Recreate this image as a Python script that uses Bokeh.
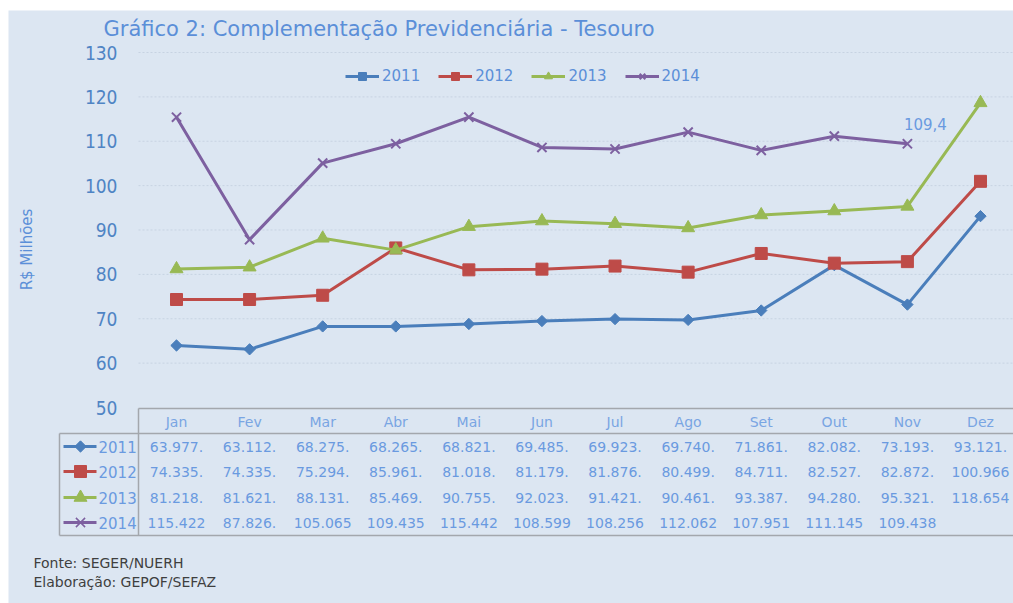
from bokeh.plotting import figure
from bokeh.models import Range1d, LinearAxis, FixedTicker, Legend, LegendItem
from bokeh.core.properties import value
from bokeh.embed import file_html
from bokeh.resources import INLINE
import math

# ---------------- data ----------------
months = ["Jan", "Fev", "Mar", "Abr", "Mai", "Jun", "Jul", "Ago", "Set", "Out", "Nov", "Dez"]
years = ["2011", "2012", "2013", "2014"]
v2011 = [63.977, 63.112, 68.275, 68.265, 68.821, 69.485, 69.923, 69.740, 71.861, 82.082, 73.193, 93.121]
v2012 = [74.335, 74.335, 75.294, 85.961, 81.018, 81.179, 81.876, 80.499, 84.711, 82.527, 82.872, 100.966]
v2013 = [81.218, 81.621, 88.131, 85.469, 90.755, 92.023, 91.421, 90.461, 93.387, 94.280, 95.321, 118.654]
v2014 = [115.422, 87.826, 105.065, 109.435, 115.442, 108.599, 108.256, 112.062, 107.951, 111.145, 109.438]
y_ticks = [50, 60, 70, 80, 90, 100, 110, 120, 130]
title_text = "Gráfico 2: Complementação Previdenciária - Tesouro"
y_label = "R$ Milhões"
source_lines = ["Fonte: SEGER/NUERH", "Elaboração: GEPOF/SEFAZ"]

series = [v2011, v2012, v2013, v2014]
colors = ["#4a7ebb", "#be4b48", "#98b954", "#7d60a0"]
markers = ["square", "square", "triangle", "x"]
msizes = [8, 12, 13, 13]
mangles = [math.pi / 4, 0, 0, 0]

# ---------------- layout helpers (page pixels -> data units) ----------------
W, H = 1005, 593          # figure size (page offset 8, 10)
PX_PER_UNIT = 355 / 80.0  # vertical scale
X0_PAGE, DX = 176.0, 73.09


def yd(page_y):
    return 130 - (page_y - 52) / PX_PER_UNIT


def xd(page_x):
    return (page_x - X0_PAGE) / DX


x_start, x_end = xd(8), xd(1013)
y_end = yd(10)
y_start = yd(603)

BG = "#dce6f2"
FONT = value("DejaVu Sans")
VAL_COLOR = "#6a9ae0"
HEAD_COLOR = "#79a5e3"
TITLE_COLOR = "#5b8fd8"
LINE_GRAY = "#a3a7ad"

p = figure(width=W, height=H, output_backend="svg", toolbar_location=None,
           x_range=Range1d(x_start, x_end), y_range=Range1d(y_start, y_end),
           x_axis_type=None, y_axis_type=None,
           min_border_left=0, min_border_right=0, min_border_bottom=0, min_border_top=0,
           background_fill_color=BG, border_fill_color=BG, outline_line_color=None)
p.margin = (10, 0, 0, 8)
p.xgrid.visible = False
p.ygrid.visible = False

# title (as text so nothing gets clipped)
p.text(x=[xd(103)], y=[yd(28)], text=[title_text], text_align="left", text_baseline="middle",
       text_font=FONT, text_font_size=value("21px"), text_color=TITLE_COLOR)

# y axis at a fixed location
yaxis = LinearAxis(fixed_location=xd(121), ticker=FixedTicker(ticks=y_ticks),
                   axis_line_color=None, major_tick_line_color=None, minor_tick_line_color=None,
                   major_tick_out=0, major_label_standoff=4,
                   major_label_text_font="'Liberation Sans Narrow', 'DejaVu Sans Condensed', sans-serif",
                   major_label_text_font_size="19px", major_label_text_color="#4f84c4")
p.add_layout(yaxis, "left")

# gridlines (faint)
gx0 = xd(138)
gt = y_ticks[1:]
p.segment(x0=[gx0] * len(gt), y0=gt, x1=[x_end] * len(gt), y1=gt,
          line_color="#c7d3e2", line_width=1, line_dash="2 2")

# y label
p.text(x=[xd(26)], y=[yd(249)], text=[y_label], angle=math.pi / 2,
       text_align="center", text_baseline="middle", text_font=FONT,
       text_font_size=value("15px"), text_color="#5b8fd8")

# series
items = []
for vals, col, mk, ms, ang, yr in zip(series, colors, markers, msizes, mangles, years):
    xs = list(range(len(vals)))
    lr = p.line(xs, vals, line_color=col, line_width=3)
    if mk == "x":
        sr = p.scatter(xs, vals, marker="x", size=ms, line_color=col, line_width=2)
    else:
        sr = p.scatter(xs, vals, marker=mk, size=ms, angle=ang, fill_color=col, line_color=col)
    items.append(LegendItem(label=yr, renderers=[lr, sr]))

# label on last 2014 point
last = len(v2014) - 1
p.text(x=[last], y=[v2014[last]], text=[f"{v2014[last]:.1f}".replace(".", ",")],
       x_offset=18, y_offset=-20, text_align="center", text_baseline="middle",
       text_font=FONT, text_font_size=value("15px"), text_color="#6a9ae0")

# legend: bottom edge given from frame bottom (legend centred on page y=76)
legend = Legend(items=items, orientation="horizontal", location=(337, 603 - 86),
                background_fill_alpha=0, border_line_color=None, padding=0, margin=0,
                glyph_width=34, glyph_height=20, label_height=20, label_standoff=3, spacing=18,
                label_text_font="DejaVu Sans", label_text_font_size="15px",
                label_text_color="#5b8fd8")
p.add_layout(legend)

# ---------------- data table ----------------
xcol = list(range(len(months)))
p.text(x=xcol, y=[yd(421)] * len(months), text=months, text_align="center",
       text_baseline="middle", text_font=FONT, text_font_size=value("14px"),
       text_color=HEAD_COLOR)

row_y = [yd(446), yd(471), yd(497), yd(522)]
for vals, col, mk, ms, ang, yr, ry in zip(series, colors, markers, msizes, mangles, years, row_y):
    labels = [f"{v:.3f}" + ("." if v < 100 else "") for v in vals]
    p.text(x=list(range(len(vals))), y=[ry] * len(vals), text=labels, text_align="center",
           text_baseline="middle", text_font=FONT, text_font_size=value("14px"),
           text_color=VAL_COLOR)
    # legend key in table
    p.segment(x0=[xd(63)], y0=[ry], x1=[xd(96)], y1=[ry], line_color=col, line_width=3)
    if mk == "x":
        p.scatter([xd(80)], [ry], marker="x", size=ms, line_color=col, line_width=1.5)
    else:
        p.scatter([xd(80)], [ry], marker=mk, size=ms, angle=ang, fill_color=col, line_color=col)
    p.text(x=[xd(98)], y=[ry], text=[yr], text_align="left", text_baseline="middle",
           text_font=FONT, text_font_size=value("15px"), text_color=VAL_COLOR)

# table borders
p.segment(x0=[xd(138), xd(59), xd(59), xd(59), xd(138)],
          y0=[yd(408), yd(433), yd(535), yd(433), yd(408)],
          x1=[x_end, x_end, x_end, xd(59), xd(138)],
          y1=[yd(408), yd(433), yd(535), yd(535), yd(535)],
          line_color=LINE_GRAY, line_width=1.5)

# source notes
p.text(x=[xd(33), xd(33)], y=[yd(562), yd(581)], text=source_lines, text_align="left",
       text_baseline="middle", text_font=FONT, text_font_size=value("14px"),
       text_color="#3f3f3f")

open("out.html", "w").write(file_html(p, INLINE))
